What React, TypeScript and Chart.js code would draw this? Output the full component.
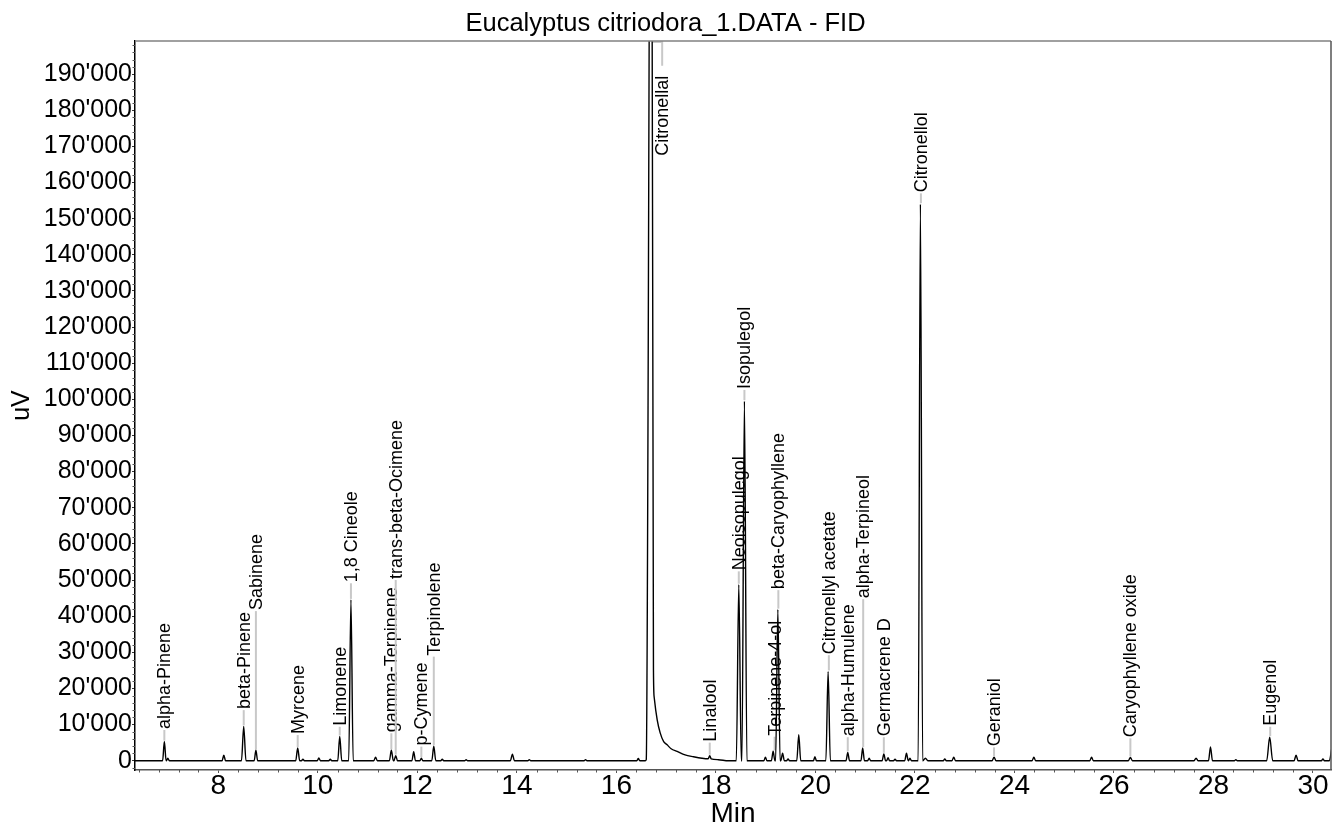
import React, { useEffect, useRef } from "react";
import { Chart, registerables } from "chart.js";

Chart.register(...registerables);

const FONT = "'Liberation Sans', Arial, Helvetica, sans-serif";

const TITLE = "Eucalyptus citriodora_1.DATA - FID";
const X_TITLE = "Min";
const Y_TITLE = "uV";
const X_MIN = 6.325;
const X_MAX = 30.362;
const Y_MIN = -2570;
const Y_MAX = 199150;
const X_TICKS = [8, 10, 12, 14, 16, 18, 20, 22, 24, 26, 28, 30];
const Y_TICKS = [
  0, 10000, 20000, 30000, 40000, 50000, 60000, 70000, 80000, 90000, 100000,
  110000, 120000, 130000, 140000, 150000, 160000, 170000, 180000, 190000,
];
const X_MINOR_STEP = 0.4;
const Y_MINOR_STEP = 2000;

// Labelled peaks (time in min, apex in uV, half base width in min, label x in min, label bottom level in uV)
const labelNames = [
  "alpha-Pinene", "beta-Pinene", "Sabinene", "Myrcene", "Limonene", "1,8 Cineole",
  "gamma-Terpinene", "trans-beta-Ocimene", "p-Cymene", "Terpinolene", "Citronellal",
  "Linalool", "Neoisopulegol", "Isopulegol", "Terpinene-4-ol", "beta-Caryophyllene",
  "Citronellyl acetate", "alpha-Humulene", "alpha-Terpineol", "Germacrene D",
  "Citronellol", "Geraniol", "Caryophyllene oxide", "Eugenol",
];
const labelPeakTimes = [
  6.915, 8.51, 8.755, 9.595, 10.44, 10.665, 11.477, 11.565, 12.08, 12.33, 16.70,
  17.876, 18.46, 18.573, 19.15, 19.245, 20.255, 20.65, 20.95, 21.375, 22.11, 23.59, 26.33, 29.13,
];
const labelPeakValues = [
  5300, 9500, 2900, 3500, 6700, 44500, 2900, 1400, 700, 4000, 320000,
  1380, 48700, 99500, 2600, 41800, 24700, 2300, 3500, 1900, 154000, 1000, 900, 6500,
];
// 0 = trace of this peak is given in the explicit Citronellal arrays below
const labelPeakWidths = [
  0.035, 0.045, 0.035, 0.04, 0.04, 0.045, 0.04, 0.035, 0.03, 0.04, 0,
  0, 0.05, 0.05, 0.035, 0.045, 0.045, 0.035, 0.035, 0.035, 0.045, 0.04, 0.04, 0.06,
];
const labelTimes = [
  6.915, 8.51, 8.755, 9.595, 10.44, 10.665, 11.477, 11.565, 12.08, 12.33, 16.92,
  17.876, 18.46, 18.573, 19.18, 19.255, 20.27, 20.65, 20.96, 21.375, 22.12, 23.59, 26.33, 29.14,
];
const labelLevels = [
  8500, 14000, 41400, 7100, 9400, 49100, 7600, 50000, 3900, 28800, 167100,
  5000, 52400, 102600, 6640, 47200, 29200, 6500, 44700, 6500, 157000, 3700, 6200, 9400,
];

// Unlabelled peaks
const minorPeakTimes = [
  6.985, 8.11, 9.70, 10.02, 10.25, 11.16, 11.926, 12.50, 12.98, 13.91, 14.25, 15.38, 16.44,
  18.995, 19.34, 19.45, 19.665, 19.99, 21.08, 21.46, 21.60, 21.83, 21.90, 22.21, 22.60, 22.78,
  24.39, 25.55, 27.65, 27.94, 28.45, 29.66, 30.20, 30.39,
];
const minorPeakValues = [
  700, 1500, 400, 750, 400, 1000, 2500, 400, 250, 1800, 300, 300, 600,
  1000, 2100, 500, 7200, 1100, 700, 800, 400, 2100, 700, 700, 500, 1000,
  1000, 1000, 700, 3800, 300, 1500, 500, 4000,
];
const minorPeakWidths = [
  0.03, 0.035, 0.03, 0.03, 0.03, 0.035, 0.035, 0.03, 0.03, 0.04, 0.03, 0.03, 0.03,
  0.03, 0.035, 0.03, 0.04, 0.03, 0.03, 0.03, 0.03, 0.035, 0.03, 0.05, 0.03, 0.035,
  0.035, 0.035, 0.04, 0.04, 0.03, 0.04, 0.03, 0.06,
];

// Off-scale Citronellal peak with its tail and Linalool, read point by point
const citronellalTimes = [
  16.58, 16.60, 16.70, 16.745, 16.76, 16.82, 16.88, 16.95, 17.02, 17.10, 17.22, 17.38,
  17.55, 17.72, 17.845, 17.876, 17.905, 18.05, 18.25,
];
const citronellalValues = [
  0, 300, 320000, 25000, 17500, 11300, 7700, 5300, 4400, 3300, 2570, 1600,
  1100, 700, 550, 1380, 520, 280, 0,
];

const BASELINE_START = 6.2;
const BASELINE_END = 30.6;
const BASELINE_VALUE = 0;

function buildTrace() {
  const pts: { x: number; y: number }[] = [];
  pts.push({ x: BASELINE_START, y: BASELINE_VALUE }, { x: BASELINE_END, y: BASELINE_VALUE });
  const addPeak = (t: number, h: number, w: number) => {
    if (w <= 0) return;
    pts.push({ x: t - w, y: BASELINE_VALUE }, { x: t, y: h }, { x: t + w, y: BASELINE_VALUE });
  };
  labelPeakTimes.forEach((t, i) => addPeak(t, labelPeakValues[i], labelPeakWidths[i]));
  minorPeakTimes.forEach((t, i) => addPeak(t, minorPeakValues[i], minorPeakWidths[i]));
  citronellalTimes.forEach((t, i) => pts.push({ x: t, y: citronellalValues[i] }));
  pts.sort((a, b) => a.x - b.x);
  return pts;
}

const fmt = (v: number) => String(Math.round(v)).replace(/\B(?=(\d{3})+(?!\d))/g, "'");

const annotationPlugin = {
  id: "peakLabels",
  beforeDatasetsDraw(chart: any) {
    const { ctx, chartArea } = chart;
    const xs = chart.scales.x;
    const ys = chart.scales.y;
    ctx.save();
    ctx.font = `18px ${FONT}`;
    ctx.strokeStyle = "#c8c8c8";
    ctx.lineWidth = 2;
    ctx.fillStyle = "#000";
    labelNames.forEach((name, i) => {
      const px = xs.getPixelForValue(labelPeakTimes[i]);
      const lx = xs.getPixelForValue(labelTimes[i]);
      const bottom = ys.getPixelForValue(labelLevels[i]);
      const tw = ctx.measureText(name).width;
      ctx.beginPath();
      if (labelPeakValues[i] > Y_MAX) {
        const top = chartArea.top + 1;
        ctx.moveTo(px + 1, top);
        ctx.lineTo(lx, top);
        ctx.lineTo(lx, bottom - tw - 11);
      } else {
        const apex = ys.getPixelForValue(labelPeakValues[i]);
        ctx.moveTo(lx, apex - 1);
        ctx.lineTo(lx, bottom);
      }
      ctx.stroke();
      ctx.save();
      ctx.translate(lx + 1, bottom - 1);
      ctx.rotate(-Math.PI / 2);
      ctx.textAlign = "left";
      ctx.textBaseline = "middle";
      ctx.fillText(name, 0, 0);
      ctx.restore();
    });
    ctx.restore();
  },
  afterDraw(chart: any) {
    const { ctx, chartArea } = chart;
    const xs = chart.scales.x;
    const ys = chart.scales.y;
    ctx.save();
    // minor ticks
    ctx.strokeStyle = "#555";
    ctx.lineWidth = 1;
    ctx.beginPath();
    for (let k = Math.ceil(X_MIN / X_MINOR_STEP); k <= Math.floor(X_MAX / X_MINOR_STEP); k++) {
      const v = k * X_MINOR_STEP;
      if (X_TICKS.some((t) => Math.abs(t - v) < 1e-6)) continue;
      const p = Math.round(xs.getPixelForValue(v)) + 0.5;
      ctx.moveTo(p, chartArea.bottom);
      ctx.lineTo(p, chartArea.bottom + 2.5);
    }
    for (let k = Math.ceil(Y_MIN / Y_MINOR_STEP); k <= Math.floor(Y_MAX / Y_MINOR_STEP); k++) {
      const v = k * Y_MINOR_STEP;
      if (Y_TICKS.indexOf(v) >= 0) continue;
      const p = Math.round(ys.getPixelForValue(v)) + 0.5;
      ctx.moveTo(chartArea.left, p);
      ctx.lineTo(chartArea.left - 2.5, p);
    }
    ctx.stroke();
    // top and right frame
    ctx.lineWidth = 1.5;
    ctx.strokeStyle = "#808080";
    ctx.beginPath();
    ctx.moveTo(chartArea.left, chartArea.top);
    ctx.lineTo(chartArea.right, chartArea.top);
    ctx.stroke();
    ctx.strokeStyle = "#555";
    ctx.beginPath();
    ctx.moveTo(chartArea.right, chartArea.top);
    ctx.lineTo(chartArea.right, chartArea.bottom);
    ctx.stroke();
    ctx.restore();
  },
};

export default function App() {
  const ref = useRef<HTMLCanvasElement | null>(null);
  useEffect(() => {
    if (!ref.current) return;
    Chart.defaults.font.family = FONT;
    const chart = new Chart(ref.current, {
      type: "line",
      data: {
        datasets: [
          {
            data: buildTrace(),
            borderColor: "#000",
            borderWidth: 1.4,
            pointRadius: 0,
            fill: false,
            cubicInterpolationMode: "monotone",
          } as any,
        ],
      },
      options: {
        animation: false,
        responsive: false,
        events: [],
        layout: { padding: { left: 0, right: 3, top: 0, bottom: 0 } },
        plugins: {
          legend: { display: false },
          tooltip: { enabled: false },
          title: {
            display: true,
            text: TITLE,
            color: "#000",
            font: { family: FONT, size: 25.5, weight: "normal", lineHeight: 1.2 },
            padding: { top: 9, bottom: 1.4 },
          },
        },
        scales: {
          x: {
            type: "linear",
            min: X_MIN,
            max: X_MAX,
            border: { display: true, color: "#555", width: 1.5 },
            grid: { display: true, drawOnChartArea: false, drawTicks: true, tickLength: 3, color: "#555" },
            afterBuildTicks: (s: any) => {
              s.ticks = X_TICKS.map((v) => ({ value: v }));
            },
            ticks: {
              autoSkip: false,
              maxRotation: 0,
              padding: -1,
              color: "#000",
              font: { family: FONT, size: 28, lineHeight: 1 },
              callback: (v: any) => String(Math.round(Number(v))),
            },
            title: {
              display: true,
              text: X_TITLE,
              color: "#000",
              font: { family: FONT, size: 28, lineHeight: 1 },
              padding: { top: 6, bottom: 0 },
            },
            afterFit: (s: any) => {
              s.height = 58;
              s.paddingLeft = 0;
              s.paddingRight = 0;
            },
          },
          y: {
            type: "linear",
            min: Y_MIN,
            max: Y_MAX,
            border: { display: true, color: "#000", width: 1.5 },
            grid: { display: true, drawOnChartArea: false, drawTicks: true, tickLength: 3, color: "#333" },
            afterBuildTicks: (s: any) => {
              s.ticks = Y_TICKS.map((v) => ({ value: v }));
            },
            ticks: {
              autoSkip: false,
              padding: 0,
              color: "#000",
              font: { family: FONT, size: 25 },
              callback: (v: any) => fmt(Number(v)),
            },
            title: {
              display: true,
              text: Y_TITLE,
              color: "#000",
              font: { family: FONT, size: 25, lineHeight: 1 },
              padding: { top: 9.5, bottom: 0 },
            },
            afterFit: (s: any) => {
              s.width = 135;
              s.paddingTop = 0;
              s.paddingBottom = 0;
            },
          },
        },
      } as any,
      plugins: [annotationPlugin],
    });
    return () => chart.destroy();
  }, []);
  return (
    <div style={{ position: "fixed", left: 0, top: 0, width: 1334, height: 828, background: "#fff" }}>
      <canvas ref={ref} width={1334} height={828} style={{ display: "block", width: 1334, height: 828 }} />
    </div>
  );
}
